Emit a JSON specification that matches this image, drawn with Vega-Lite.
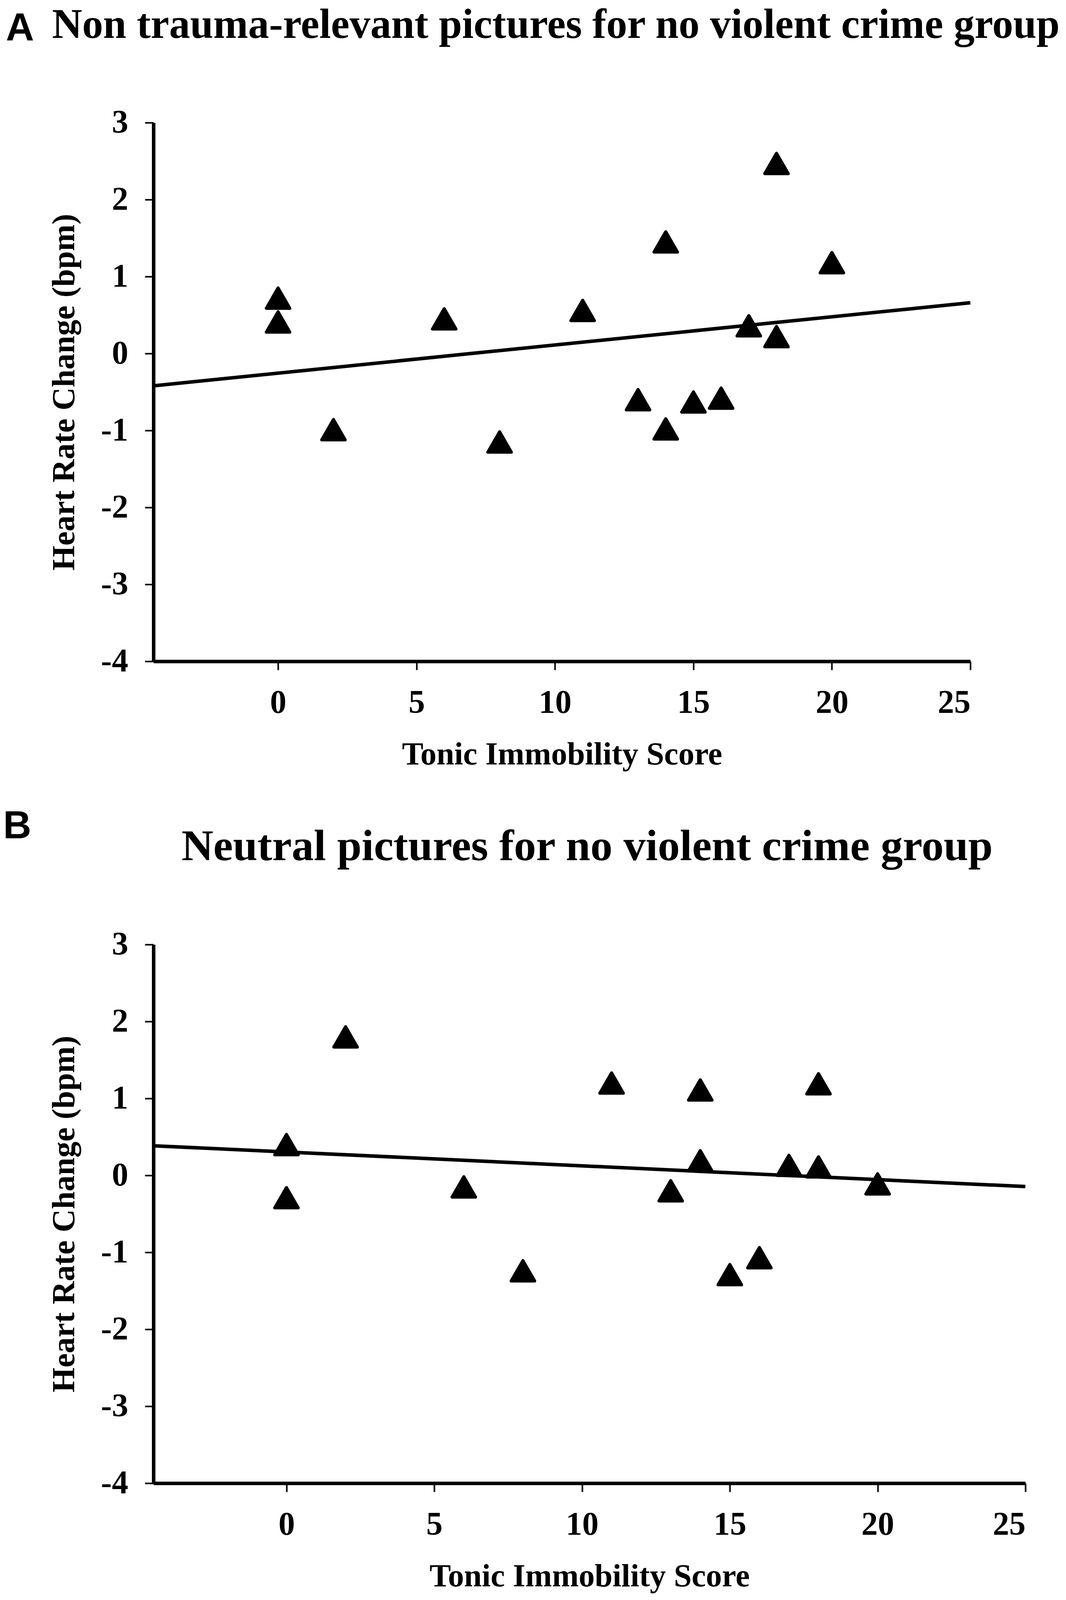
{
  "$schema": "https://vega.github.io/schema/vega-lite/v6.json",
  "background": "white",
  "padding": {"left": 8, "top": 10, "right": 10, "bottom": 10},
  "spacing": 94,
  "config": {
    "font": "Liberation Serif",
    "view": {"stroke": null},
    "axis": {
      "grid": false,
      "domainColor": "black",
      "domainWidth": 9,
      "tickColor": "black",
      "tickWidth": 4,
      "tickSize": 22,
      "labelFont": "Liberation Serif",
      "labelFontWeight": "bold",
      "labelFontSize": 84,
      "labelColor": "black",
      "titleFont": "Liberation Serif",
      "titleFontWeight": "bold",
      "titleFontSize": 82,
      "titleColor": "black"
    },
    "axisBottom": {"labelPadding": 43, "titlePadding": 50},
    "axisLeft": {"labelPadding": 43, "titlePadding": 52},
    "title": {
      "font": "Liberation Sans",
      "fontSize": 100,
      "fontWeight": "bold",
      "color": "black",
      "anchor": "start",
      "frame": "bounds",
      "baseline": "alphabetic"
    }
  },
  "datasets": {
    "ptsA": [
      {"score": 0, "hr": 0.72},
      {"score": 0, "hr": 0.41},
      {"score": 2, "hr": -0.99},
      {"score": 6, "hr": 0.45},
      {"score": 8, "hr": -1.15},
      {"score": 11, "hr": 0.56},
      {"score": 13, "hr": -0.6},
      {"score": 14, "hr": 1.45},
      {"score": 14, "hr": -0.98},
      {"score": 15, "hr": -0.63},
      {"score": 16, "hr": -0.58},
      {"score": 17, "hr": 0.36},
      {"score": 18, "hr": 2.47},
      {"score": 18, "hr": 0.22},
      {"score": 20, "hr": 1.18}
    ],
    "lineA": [
      {"score": -4.5, "hr": -0.42},
      {"score": 25, "hr": 0.66}
    ],
    "ptsB": [
      {"score": 0, "hr": 0.4},
      {"score": 0, "hr": -0.29},
      {"score": 2, "hr": 1.8},
      {"score": 6, "hr": -0.15},
      {"score": 8, "hr": -1.24},
      {"score": 11, "hr": 1.2},
      {"score": 13, "hr": -0.2},
      {"score": 14, "hr": 1.11},
      {"score": 14, "hr": 0.19},
      {"score": 15, "hr": -1.29},
      {"score": 16, "hr": -1.07},
      {"score": 17, "hr": 0.13},
      {"score": 18, "hr": 1.19},
      {"score": 18, "hr": 0.11},
      {"score": 20, "hr": -0.11}
    ],
    "lineB": [
      {"score": -4.5, "hr": 0.385},
      {"score": 25, "hr": -0.145}
    ]
  },
  "vconcat": [
    {
      "title": {"text": "A", "offset": -115, "dx": -108},
      "width": 2092,
      "height": 1379,
      "encoding": {
        "y": {
          "field": "hr",
          "type": "quantitative",
          "title": "Heart Rate Change (bpm)",
          "scale": {"domain": [-4, 3], "nice": false, "zero": false},
          "axis": {"values": [-4, -3, -2, -1, 0, 1, 2, 3], "labelExpr": "'' + datum.value"}
        }
      },
      "layer": [
        {
          "data": {"name": "ptsA"},
          "mark": {
            "type": "point",
            "shape": "triangle-up",
            "filled": true,
            "size": 3600,
            "color": "black",
            "opacity": 1,
            "stroke": "black",
            "strokeWidth": 8,
            "strokeJoin": "round"
          },
          "encoding": {
            "x": {
              "field": "score",
              "type": "quantitative",
              "title": "Tonic Immobility Score",
              "scale": {"domain": [-4.5, 25], "nice": false, "zero": false},
              "axis": {"values": [0, 5, 10, 15, 20, 25]}
            }
          }
        },
        {
          "data": {"name": "lineA"},
          "mark": {"type": "line", "color": "black", "strokeWidth": 9},
          "encoding": {
            "x": {
              "field": "score",
              "type": "quantitative",
              "scale": {"domain": [-4.5, 25], "nice": false, "zero": false},
              "axis": {
                "orient": "top",
                "title": "Non trauma-relevant pictures for no violent crime group",
                "titleFontSize": 107,
                "titleBaseline": "alphabetic",
                "titleAlign": "center",
                "titleX": 1030,
                "titlePadding": 218,
                "labels": false,
                "ticks": false,
                "domain": false
              }
            }
          }
        }
      ],
      "resolve": {"axis": {"x": "independent"}}
    },
    {
      "title": {"text": "B", "offset": -56, "dx": -115},
      "width": 2233,
      "height": 1379,
      "encoding": {
        "y": {
          "field": "hr",
          "type": "quantitative",
          "title": "Heart Rate Change (bpm)",
          "scale": {"domain": [-4, 3], "nice": false, "zero": false},
          "axis": {"values": [-4, -3, -2, -1, 0, 1, 2, 3], "labelExpr": "'' + datum.value"}
        }
      },
      "layer": [
        {
          "data": {"name": "ptsB"},
          "mark": {
            "type": "point",
            "shape": "triangle-up",
            "filled": true,
            "size": 3600,
            "color": "black",
            "opacity": 1,
            "stroke": "black",
            "strokeWidth": 8,
            "strokeJoin": "round"
          },
          "encoding": {
            "x": {
              "field": "score",
              "type": "quantitative",
              "title": "Tonic Immobility Score",
              "scale": {"domain": [-4.5, 25], "nice": false, "zero": false},
              "axis": {"values": [0, 5, 10, 15, 20, 25]}
            }
          }
        },
        {
          "data": {"name": "lineB"},
          "mark": {"type": "line", "color": "black", "strokeWidth": 9},
          "encoding": {
            "x": {
              "field": "score",
              "type": "quantitative",
              "scale": {"domain": [-4.5, 25], "nice": false, "zero": false},
              "axis": {
                "orient": "top",
                "title": "Neutral pictures for no violent crime group",
                "titleFontSize": 113,
                "titleBaseline": "alphabetic",
                "titleAlign": "center",
                "titleX": 1110,
                "titlePadding": 217,
                "labels": false,
                "ticks": false,
                "domain": false
              }
            }
          }
        }
      ],
      "resolve": {"axis": {"x": "independent"}}
    }
  ]
}
